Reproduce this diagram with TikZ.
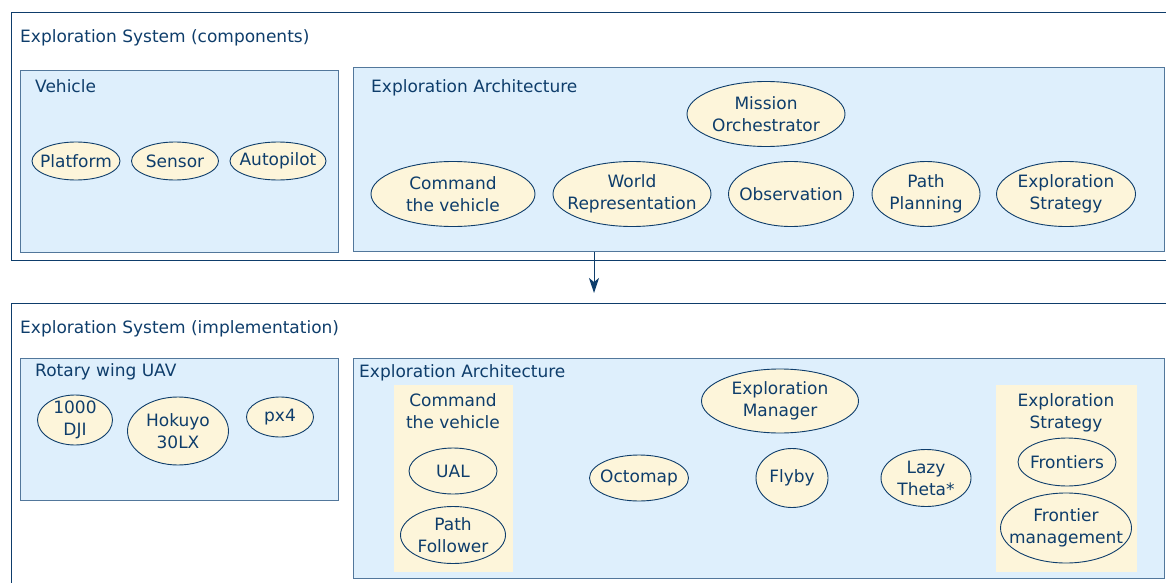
\documentclass[tikz,border=0pt]{standalone}
\usepackage{fontspec}
\setmainfont{DejaVu Sans}
\usetikzlibrary{shapes,arrows,arrows.meta}
\usetikzlibrary{positioning}
\definecolor{navy}{HTML}{0E3D6B}
\definecolor{boxline}{HTML}{52779B}
\definecolor{boxfill}{HTML}{DEEFFC}
\definecolor{partfill}{HTML}{FDF5DA}
\tikzset{sysbox/.style={draw=navy, line width=1pt, anchor=north west, inner sep=0pt},
groupbox/.style={draw=boxline, fill=boxfill, line width=1.3pt, anchor=north west, inner sep=0pt},
panel/.style={fill=partfill, anchor=north west, inner sep=0pt},
part/.style={ellipse, draw=navy, fill=partfill, line width=0.9pt, inner sep=0pt},
heading/.style={anchor=base west, inner sep=0pt},
caption/.style={align=center, inner sep=0pt}
}

\begin{document}
\begin{tikzpicture}[> = {Stealth[length=15pt,width=10pt,inset=4pt]}, x=1pt, y=-1pt,
  font=\fontsize{17}{22}\selectfont, text=navy, every label/.style={caption}]
\useasboundingbox (0,0) rectangle (1166,583);
\clip (0,0) rectangle (1166,583);

\node[sysbox, minimum width=1200, minimum height=248] (comp) at (11,12) {};
\node[heading] (comptitle) at (20,43) {Exploration System (components)};

\node[groupbox, minimum width=318, minimum height=182] (vehicle) at (20,70) {};
\node[heading] at (35,93) {Vehicle};
\node[part, minimum width=88, minimum height=38, label=center:Platform] (platform) at (76,161) {};
\node[part, minimum width=87, minimum height=38, label=center:Sensor] (sensor) at (175,161) {};
\node[part, minimum width=96, minimum height=38, label=center:Autopilot] (autopilot) at (278,161) {};

\node[groupbox, minimum width=811, minimum height=184] (archtop) at (353,67) {};
\node[heading] at (371,93) {Exploration Architecture};
\node[part, minimum width=158, minimum height=65, label={center:Mission\\Orchestrator}] (orchestrator) at (766,114) {};
\node[part, minimum width=164, minimum height=65, label={center:Command\\the vehicle}] (command) at (453,194) {};
\node[part, minimum width=158, minimum height=65, label={center:World\\Representation}] (world) at (632,194) {};
\node[part, minimum width=125, minimum height=65, label=center:Observation] (observation) at (791,194) {};
\node[part, minimum width=108, minimum height=65, label={center:Path\\Planning}] (planning) at (926,194) {};
\node[part, minimum width=139, minimum height=65, label={center:Exploration\\Strategy}] (strategy) at (1066,194) {};

\node[sysbox, minimum width=1200, minimum height=300] (impl) at (11,303) {};
\node[heading] (impltitle) at (20,333) {Exploration System (implementation)};

\node[groupbox, minimum width=318, minimum height=142] (uav) at (20,358) {};
\node[heading] at (35,376) {Rotary wing UAV};
\node[part, minimum width=75, minimum height=50, label={center:1000\\DJI}] (dji) at (75,420) {};
\node[part, minimum width=101, minimum height=68, label={center:Hokuyo\\30LX}] (hokuyo) at (178,431) {};
\node[part, minimum width=67, minimum height=40, label=center:px4] (px4) at (280,417) {};

\node[groupbox, minimum width=811, minimum height=220] (archbot) at (353,358) {};
\node[heading] at (359,377) {Exploration Architecture};

\node[panel, minimum width=119, minimum height=187] (cmdpanel) at (394,385) {};
\node[caption, anchor=north] at (453,393.5) {Command\\the vehicle};
\node[part, minimum width=88, minimum height=46, label=center:UAL] (ual) at (453,471) {};
\node[part, minimum width=105, minimum height=57, label={center:Path\\Follower}] (follower) at (453,535) {};

\node[part, minimum width=157, minimum height=64, label={center:Exploration\\Manager}] (manager) at (780,401) {};
\node[part, minimum width=99, minimum height=46, label=center:Octomap] (octomap) at (639,478) {};
\node[part, minimum width=72, minimum height=59, label=center:Flyby] (flyby) at (792,478) {};
\node[part, minimum width=90, minimum height=57, label={center:Lazy\\Theta*}] (theta) at (926,478) {};

\node[panel, minimum width=141, minimum height=187] (stratpanel) at (996,385) {};
\node[caption, anchor=north] at (1066,393.5) {Exploration\\Strategy};
\node[part, minimum width=98, minimum height=48, label=center:Frontiers] (frontiers) at (1067,462) {};
\node[part, minimum width=131, minimum height=70, label={center:Frontier\\management}] (management) at (1066,528) {};

\coordinate (tip) at (594,293);
\draw[->, navy, line width=1pt] (archtop.south -| tip) -- (tip);
\end{tikzpicture}
\end{document}
